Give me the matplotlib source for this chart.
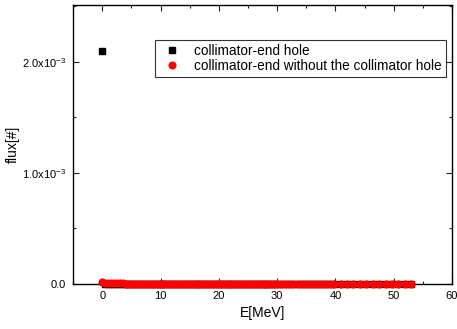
import numpy as np
import matplotlib
matplotlib.use('Agg')
from matplotlib import pyplot as plt
from matplotlib.ticker import MultipleLocator, FuncFormatter

plt.rcParams['font.family'] = ['Liberation Sans', 'DejaVu Sans']
plt.rcParams['mathtext.fontset'] = 'custom'
plt.rcParams['mathtext.rm'] = 'Liberation Sans'

# energy bins [MeV]
energy = [0, 0.5, 1, 1.5, 2, 2.5, 3, 3.5, 4, 4.5, 5, 5.5, 6, 6.5, 7, 7.5,
          8, 8.5, 9, 9.5, 10, 10.5, 11, 11.5, 12, 12.5, 13, 13.5, 14, 14.5,
          15, 15.5, 16, 16.5, 17, 17.5, 18, 18.5, 19, 19.5, 20, 20.5, 21,
          21.5, 22, 22.5, 23, 23.5, 24, 24.5, 25, 25.5, 26, 26.5, 27, 27.5,
          28, 28.5, 29, 29.5, 30,
          30.7, 31.4, 32.1, 32.8, 33.5, 34.2, 34.9, 35.6, 36.3, 37.0, 37.7,
          38.4, 39.1, 39.8,
          40.9, 42.0, 43.1, 44.2, 45.3, 46.4, 47.5, 48.6, 49.7, 50.8, 51.9,
          53.0]

# collimator-end hole  (units of 1e-6)
flux_hole = [2100, 3.0, 2.8, 2.6, 2.4, 2.2, 2.0, 1.9, 1.8, 1.7, 1.6, 1.5,
             1.4, 1.3, 1.3, 1.2, 1.2, 1.1, 1.1, 1.0, 1.0, 0.9, 0.9, 0.9,
             0.8, 0.8, 0.8, 0.7, 0.7, 0.7, 0.6, 0.6, 0.6, 0.6, 0.5, 0.5,
             0.5, 0.5, 0.5, 0.4, 0.4, 0.4, 0.4, 0.4, 0.4, 0.3, 0.3, 0.3,
             0.3, 0.3, 0.3, 0.3, 0.3, 0.2, 0.2, 0.2, 0.2, 0.2, 0.2, 0.2,
             0.2, 0.2, 0.2, 0.2, 0.2, 0.1, 0.1, 0.1, 0.1, 0.1, 0.1, 0.1,
             0.1, 0.1, 0.1, 0.1, 0.1, 0.1, 0.1, 0.1, 0.1, 0.1, 0.1, 0.1,
             0.1, 0.1, 0.1]

# collimator-end without the collimator hole  (units of 1e-6)
flux_nohole = [18.0, 7.0, 6.0, 5.5, 5.0, 4.6, 4.3, 4.0, 3.8, 3.6, 3.4, 3.2,
               3.0, 2.9, 2.8, 2.7, 2.6, 2.5, 2.4, 2.3, 2.2, 2.1, 2.0, 1.9,
               1.9, 1.8, 1.7, 1.7, 1.6, 1.5, 1.5, 1.4, 1.4, 1.3, 1.3, 1.2,
               1.2, 1.1, 1.1, 1.0, 1.0, 1.0, 0.9, 0.9, 0.9, 0.8, 0.8, 0.8,
               0.7, 0.7, 0.7, 0.7, 0.6, 0.6, 0.6, 0.6, 0.5, 0.5, 0.5, 0.5,
               0.5, 0.4, 0.4, 0.4, 0.4, 0.4, 0.3, 0.3, 0.3, 0.3, 0.3, 0.3,
               0.2, 0.2, 0.2, 0.2, 0.2, 0.2, 0.2, 0.1, 0.1, 0.1, 0.1, 0.1,
               0.1, 0.1, 0.1]


def ylabel_fmt(v, pos):
    if abs(v) < 1e-12:
        return '0.0'
    m = v / 1e-3
    return r'%.1fx10$^{-3}$' % m


fig = plt.figure(figsize=(4.57, 3.29), dpi=100)
ax = fig.add_axes([0.160, 0.137, 0.829, 0.848])

ax.plot(energy, np.array(flux_hole) * 1e-6, linestyle='none', marker='s',
        color='black', markersize=5, label='collimator-end hole',
        zorder=2, clip_on=False)
ax.plot(energy, np.array(flux_nohole) * 1e-6, linestyle='none', marker='o',
        color='red', markersize=4.8,
        label='collimator-end without the collimator hole',
        zorder=3, clip_on=False)

ax.set_xlim(-5, 60)
ax.set_ylim(0, 2.51e-3)
ax.xaxis.set_major_locator(MultipleLocator(10))
ax.xaxis.set_minor_locator(MultipleLocator(5))
ax.yaxis.set_major_locator(MultipleLocator(1e-3))
ax.yaxis.set_minor_locator(MultipleLocator(5e-4))
ax.yaxis.set_major_formatter(FuncFormatter(ylabel_fmt))
ax.tick_params(which='both', direction='in', top=True, right=True,
               labelsize=8, color='#222222')
ax.tick_params(which='major', length=4, width=0.8, pad=5)
ax.tick_params(which='minor', length=2.5, width=0.8)
for s in ax.spines.values():
    s.set_linewidth(1.0)

ax.set_xlabel('E[MeV]', fontsize=10, labelpad=4)
ax.set_ylabel('flux[#]', fontsize=10, labelpad=2)

leg = ax.legend(loc='upper right', bbox_to_anchor=(0.984, 0.875),
                fontsize=9.8, frameon=True, fancybox=False, borderpad=0.3,
                handletextpad=0.6, labelspacing=0.1, markerscale=1.0,
                borderaxespad=0)
leg.get_frame().set_edgecolor('black')
leg.get_frame().set_linewidth(0.8)

plt.savefig('out.png', dpi=100)
